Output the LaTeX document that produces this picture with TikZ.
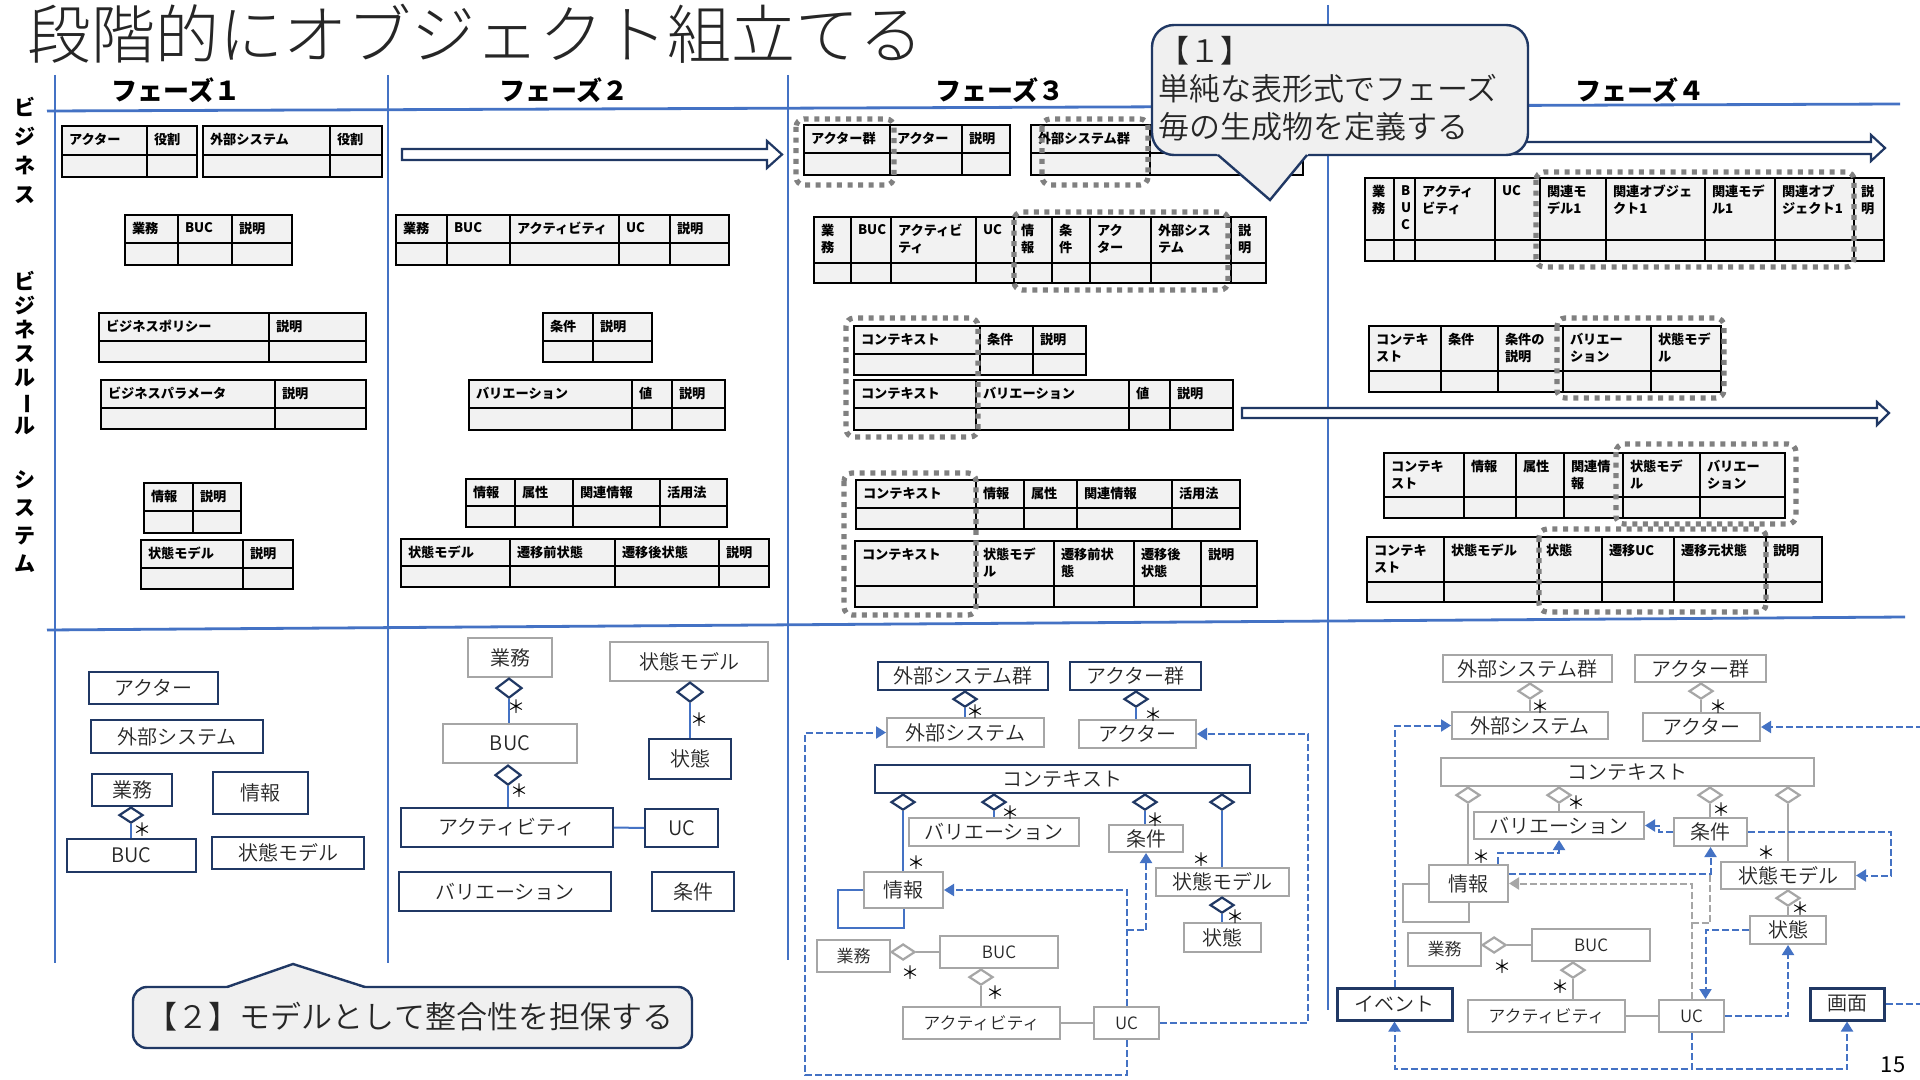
\documentclass[tikz,border=0pt]{standalone}
\usepackage{fontspec}
\setmainfont{Noto Sans CJK JP}
\IfFontExistsTF{Noto Sans CJK JP Light}{\newfontfamily\thinfont{Noto Sans CJK JP Light}}{\newfontfamily\thinfont{Noto Sans CJK JP}}
\IfFontExistsTF{Noto Sans CJK JP DemiLight}{\newfontfamily\demifont{Noto Sans CJK JP DemiLight}}{\newfontfamily\demifont{Noto Sans CJK JP}}
\usetikzlibrary{shapes.geometric,arrows.meta}
\definecolor{divblue}{HTML}{4472C4}
\definecolor{navyb}{HTML}{203864}
\definecolor{boxgray}{HTML}{A6A6A6}
\definecolor{cellgray}{HTML}{F2F2F2}
\definecolor{dotgray}{HTML}{808080}
\definecolor{txtdark}{HTML}{262626}
\definecolor{callfill}{HTML}{F0F0F0}
\tikzset{
  divl/.style={draw=divblue, line width=1.4pt},
  tcell/.style={draw=black, fill=cellgray, line width=1.1pt},
  thead/.style={anchor=north west, inner sep=0pt, outer sep=0pt, xshift=3.5pt, yshift=-3.7pt, align=left, font=\bfseries\fontsize{6.6}{8.5}\selectfont},
  dotb/.style={draw=dotgray, line width=2.6pt, dash pattern=on 2.5pt off 2.8pt, rounded corners=4pt},
  mbase/.style={fill=white, line width=1pt, inner sep=0pt, font=\demifont\fontsize{10}{12}\selectfont, text=txtdark},
  mnavy/.style={mbase, draw=navyb},
  mthick/.style={mbase, draw=navyb, line width=1.5pt},
  mgray/.style={mbase, draw=boxgray},
  msmall/.style={font=\demifont\fontsize{8.5}{10}\selectfont},
  ndia/.style={diamond, draw=navyb, fill=white, line width=1.1pt, inner sep=0pt, minimum width=12pt, minimum height=8pt, anchor=north},
  gdia/.style={ndia, draw=boxgray},
  bline/.style={draw=divblue, line width=1pt},
  gline/.style={draw=boxgray, line width=1pt},
  darr/.style={draw=divblue, line width=1pt, dash pattern=on 3.5pt off 1.5pt, -{Triangle[length=5pt,width=6pt]}},
  garr/.style={draw=boxgray, line width=1pt, dash pattern=on 3.5pt off 1.5pt, -{Triangle[length=5pt,width=6pt]}},
  gdsh/.style={draw=boxgray, line width=1pt, dash pattern=on 3.5pt off 1.5pt},
  ast/.style={inner sep=0pt, font=\fontsize{9}{9}\selectfont, text=black},
  barr/.style={draw=navyb, fill=white, line width=1.1pt, line join=miter},
  callb/.style={draw=navyb, fill=callfill, line width=1.2pt},
  callline/.style={draw=navyb, line width=1.2pt, line join=miter},
  calltext/.style={inner sep=0pt, font=\demifont\fontsize{15.5}{19}\selectfont, text=txtdark, align=left},
  vlab/.style={inner sep=0pt, align=center, font=\bfseries\fontsize{10.5}{14.5}\selectfont},
  phase/.style={inner sep=0pt, font=\bfseries\fontsize{13}{15}\selectfont},
}
\newcommand\jtab[5]{%
  \foreach \xa/\xb/\lab [count=\ci] in {#5}{%
    \draw[tcell] (\xa,#2) rectangle (\xb,#3);
    \draw[tcell] (\xa,#3) rectangle (\xb,#4);
    \node[thead] (#1-\ci) at (\xa,#2) {\lab};
  }}
\newcommand\mbx[7]{\node[#1, minimum width={(#5-#3)*0.5pt}, minimum height={(#6-#4)*0.5pt}] (#2) at ({(#3+#5)/2},{(#4+#6)/2}) {#7};}
\begin{document}
\begin{tikzpicture}[x=0.5pt,y=-0.5pt]
\useasboundingbox (0,0) rectangle (1920,1080);
\fill[white] (0,0) rectangle (1920,1080);
% dividers
\draw[divl] (55,75) -- (55,963);
\draw[divl] (388,75) -- (388,963);
\draw[divl] (788,75) -- (788,960);
\draw[divl] (1328,5) -- (1328,1010);
\draw[divl] (47,111) -- (1900,104);
\draw[divl] (47,630) -- (1905,617);
% title, headers
\node[anchor=west, inner sep=0pt, font=\thinfont\fontsize{32}{34}\selectfont, text=txtdark] (title) at (27,34) {段階的にオブジェクト組立てる};
\node[phase] (ph1) at (176,90) {フェーズ１};
\node[phase] (ph2) at (564,90) {フェーズ２};
\node[phase] (ph3) at (1000,90) {フェーズ３};
\node[phase] (ph4) at (1640,90) {フェーズ４};
\node[vlab] (vl1) at (25,150) {ビ\\ジ\\ネ\\ス};
\node[vlab, font=\bfseries\fontsize{10.5}{12}\selectfont] (vl2) at (25,353) {ビ\\ジ\\ネ\\ス\\ル\\\rotatebox[origin=c]{-90}{ー}\\ル};
\node[vlab, font=\bfseries\fontsize{10.5}{14}\selectfont] (vl3) at (25,522) {シ\\ス\\テ\\ム};
% phase 1 tables
\jtab{t1a}{126}{155}{177}{62/147/アクター, 147/197/役割}
\jtab{t1b}{126}{155}{177}{203/330/外部システム, 330/382/役割}
\jtab{t1c}{215}{243}{265}{125/178/業務, 178/232/BUC, 232/292/説明}
\jtab{t1d}{313}{341}{362}{99/269/ビジネスポリシー, 269/366/説明}
\jtab{t1e}{380}{408}{429}{101/275/ビジネスパラメータ, 275/366/説明}
\jtab{t1f}{483}{511}{533}{144/193/情報, 193/241/説明}
\jtab{t1g}{540}{568}{589}{141/243/状態モデル, 243/293/説明}
% phase 2 tables
\jtab{t2a}{215}{243}{265}{396/447/業務, 447/510/BUC, 510/619/アクティビティ, 619/670/UC, 670/729/説明}
\jtab{t2b}{313}{341}{362}{543/593/条件, 593/652/説明}
\jtab{t2c}{380}{408}{430}{469/632/バリエーション, 632/672/値, 672/725/説明}
\jtab{t2d}{479}{506}{527}{466/515/情報, 515/573/属性, 573/660/関連情報, 660/727/活用法}
\jtab{t2e}{539}{566}{587}{401/510/状態モデル, 510/615/遷移前状態, 615/719/遷移後状態, 719/769/説明}
% phase 3 tables
\jtab{t3a}{125}{153}{175}{804/890/アクター群, 890/962/アクター, 962/1010/説明}
\jtab{t3b}{125}{153}{175}{1031/1150/外部システム群, 1150/1303/{}}
\jtab{t3c}{217}{263}{283}{814/851/{業\\務}, 851/891/BUC, 891/976/{アクティビ\\ティ}, 976/1014/UC, 1014/1052/{情\\報}, 1052/1090/{条\\件}, 1090/1151/{アク\\ター}, 1151/1231/{外部シス\\テム}, 1231/1266/{説\\明}}
\jtab{t3d}{326}{354}{375}{854/980/コンテキスト, 980/1033/条件, 1033/1086/説明}
\jtab{t3e}{380}{408}{430}{854/976/コンテキスト, 976/1129/バリエーション, 1129/1170/値, 1170/1233/説明}
\jtab{t3f}{480}{508}{529}{856/976/コンテキスト, 976/1024/情報, 1024/1077/属性, 1077/1172/関連情報, 1172/1240/活用法}
\jtab{t3g}{541}{586}{607}{855/976/コンテキスト, 976/1054/{状態モデ\\ル}, 1054/1134/{遷移前状\\態}, 1134/1201/{遷移後\\状態}, 1201/1257/説明}
% phase 4 tables
\jtab{t4a}{178}{240}{261}{1365/1394/{業\\務}, 1394/1415/{B\\U\\C}, 1415/1495/{アクティ\\ビティ}, 1495/1540/UC, 1540/1606/{関連モ\\デル1}, 1606/1705/{関連オブジェ\\クト1}, 1705/1775/{関連モデ\\ル1}, 1775/1854/{関連オブ\\ジェクト1}, 1854/1884/{説\\明}}
\jtab{t4b}{326}{371}{392}{1369/1441/{コンテキ\\スト}, 1441/1498/条件, 1498/1563/{条件の\\説明}, 1563/1651/{バリエー\\ション}, 1651/1721/{状態モデ\\ル}}
\jtab{t4c}{453}{497}{518}{1384/1464/{コンテキ\\スト}, 1464/1516/情報, 1516/1564/属性, 1564/1623/{関連情\\報}, 1623/1700/{状態モデ\\ル}, 1700/1785/{バリエー\\ション}}
\jtab{t4d}{537}{582}{602}{1367/1444/{コンテキ\\スト}, 1444/1539/状態モデル, 1539/1602/状態, 1602/1674/遷移UC, 1674/1766/遷移元状態, 1766/1822/説明}
% dotted groups
\draw[dotb] (796,119) rectangle (894,185);
\draw[dotb] (1042,119) rectangle (1148,185);
\draw[dotb] (1014,212) rectangle (1228,290);
\draw[dotb] (846,318) rectangle (978,437);
\draw[dotb] (844,473) rectangle (976,615);
\draw[dotb] (1536,172) rectangle (1854,267);
\draw[dotb] (1557,318) rectangle (1724,398);
\draw[dotb] (1616,444) rectangle (1796,524);
\draw[dotb] (1539,529) rectangle (1766,612);
% block arrows
\draw[barr] (402,149) -- (767,149) -- (767,141) -- (782,154.5) -- (767,168) -- (767,160) -- (402,160) -- cycle;
\draw[barr] (1310,142) -- (1871,142) -- (1871,135) -- (1885,148) -- (1871,161) -- (1871,154) -- (1310,154) -- cycle;
\draw[barr] (1242,408) -- (1877,408) -- (1877,402) -- (1889,413) -- (1877,425) -- (1877,418) -- (1242,418) -- cycle;
% ---------- phase 1 model
\mbx{mnavy}{p1actor}{89}{672}{218}{704}{アクター}
\mbx{mnavy}{p1ext}{91}{720}{263}{753}{外部システム}
\mbx{mnavy}{p1biz}{92}{774}{172}{806}{業務}
\mbx{mnavy}{p1info}{213}{772}{308}{814}{情報}
\mbx{mnavy}{p1buc}{67}{839}{196}{872}{BUC}
\mbx{mnavy}{p1sm}{212}{837}{364}{869}{状態モデル}
\node[ndia] (p1d1) at (131,806) {};
\draw[bline] (p1d1.south) -- (p1d1.south |- p1buc.north);
\node[ast] (p1s1) at (142,830) {＊};
% ---------- phase 2 model
\mbx{mgray}{p2biz}{468}{638}{552}{677}{業務}
\mbx{mgray}{p2sm}{610}{642}{768}{681}{状態モデル}
\mbx{mgray}{p2buc}{443}{724}{577}{763}{BUC}
\mbx{mnavy}{p2st}{649}{739}{731}{779}{状態}
\mbx{mnavy}{p2act}{401}{808}{613}{847}{アクティビティ}
\mbx{mnavy}{p2uc}{645}{809}{718}{847}{UC}
\mbx{mnavy}{p2var}{399}{872}{611}{911}{バリエーション}
\mbx{mnavy}{p2cond}{652}{872}{734}{911}{条件}
\node[ndia, minimum width=13pt, minimum height=10pt] (p2d1) at (509,677) {};
\draw[bline] (p2d1.south) -- (p2d1.south |- p2buc.north);
\node[ndia, minimum width=13pt, minimum height=10pt] (p2d2) at (508,764) {};
\draw[bline] (p2d2.south) -- (p2d2.south |- p2act.north);
\node[ndia, minimum width=13pt, minimum height=10pt] (p2d3) at (690,681) {};
\draw[bline] (p2d3.south) -- (p2d3.south |- p2st.north);
\draw[bline] (p2act.east) -- (p2uc.west);
\node[ast] (p2s1) at (516,707) {＊};
\node[ast] (p2s2) at (519,791) {＊};
\node[ast] (p2s3) at (699,720) {＊};
% ---------- phase 3 model
\mbx{mnavy}{p3extg}{878}{662}{1048}{690}{外部システム群}
\mbx{mnavy}{p3actg}{1070}{662}{1201}{690}{アクター群}
\mbx{mgray}{p3ext}{887}{718}{1044}{747}{外部システム}
\mbx{mgray}{p3actor}{1079}{720}{1196}{748}{アクター}
\mbx{mnavy}{p3ctx}{875}{765}{1250}{793}{コンテキスト}
\mbx{mgray}{p3var}{909}{818}{1079}{846}{バリエーション}
\mbx{mgray}{p3cond}{1109}{825}{1183}{852}{条件}
\mbx{mgray}{p3info}{864}{872}{943}{908}{情報}
\mbx{mgray}{p3sm}{1156}{868}{1289}{896}{状態モデル}
\mbx{mgray}{p3st}{1184}{923}{1261}{952}{状態}
\mbx{mgray,msmall}{p3biz}{817}{940}{890}{972}{業務}
\mbx{mgray,msmall}{p3buc}{940}{936}{1058}{968}{BUC}
\mbx{mgray,msmall}{p3act}{903}{1007}{1060}{1039}{アクティビティ}
\mbx{mgray,msmall}{p3uc}{1094}{1007}{1159}{1039}{UC}
\draw[bline] (p3info.west) -| (838,928) -| (p3info.south);
\node[ndia] (p3d1) at (965,690) {};
\draw[bline] (p3d1.south) -- (p3d1.south |- p3ext.north);
\node[ndia] (p3d2) at (1136,690) {};
\draw[bline] (p3d2.south) -- (p3d2.south |- p3actor.north);
\node[ndia] (p3d3) at (903,793) {};
\draw[bline] (p3d3.south) -- (p3d3.south |- p3info.north);
\node[ndia] (p3d4) at (994,793) {};
\draw[bline] (p3d4.south) -- (p3d4.south |- p3var.north);
\node[ndia] (p3d5) at (1145,793) {};
\draw[bline] (p3d5.south) -- (p3d5.south |- p3cond.north);
\node[ndia] (p3d6) at (1222,793) {};
\draw[bline] (p3d6.south) -- (p3d6.south |- p3sm.north);
\node[ndia] (p3d7) at (1222,896) {};
\draw[bline] (p3d7.south) -- (p3d7.south |- p3st.north);
\node[gdia, anchor=west] (p3d8) at (890,952) {};
\draw[gline] (p3d8.east) -- (p3d8.east -| p3buc.west);
\node[gdia] (p3d9) at (981,968) {};
\draw[gline] (p3d9.south) -- (p3d9.south |- p3act.north);
\draw[gline] (p3act.east) -- (p3uc.west);
\draw[darr] (p3uc.north) |- (p3info.east);
\draw[darr] (p3uc.north |- 0,930) -| (p3cond.south);
\coordinate (p3r) at (1308,734);
\draw[darr] (p3uc.east) -| (p3r) -- (p3actor.east);
\coordinate (p3bl) at (805,1075);
\draw[darr] (p3uc.south) |- (p3bl) |- (p3ext.west);
\node[ast] (p3s1) at (975,712) {＊};
\node[ast] (p3s2) at (1153,715) {＊};
\node[ast] (p3s3) at (916,863) {＊};
\node[ast] (p3s4) at (1010,813) {＊};
\node[ast] (p3s5) at (1155,820) {＊};
\node[ast] (p3s6) at (1201,860) {＊};
\node[ast] (p3s7) at (1235,917) {＊};
\node[ast] (p3s8) at (910,973) {＊};
\node[ast] (p3s9) at (995,993) {＊};
% ---------- phase 4 model
\mbx{mgray}{p4extg}{1443}{655}{1612}{682}{外部システム群}
\mbx{mgray}{p4actg}{1635}{655}{1766}{682}{アクター群}
\mbx{mgray}{p4ext}{1452}{712}{1608}{739}{外部システム}
\mbx{mgray}{p4actor}{1643}{713}{1760}{741}{アクター}
\mbx{mgray}{p4ctx}{1441}{758}{1814}{786}{コンテキスト}
\mbx{mgray}{p4var}{1474}{812}{1644}{839}{バリエーション}
\mbx{mgray}{p4cond}{1674}{818}{1747}{846}{条件}
\mbx{mgray}{p4info}{1429}{865}{1508}{902}{情報}
\mbx{mgray}{p4sm}{1721}{862}{1855}{889}{状態モデル}
\mbx{mgray}{p4st}{1750}{916}{1826}{944}{状態}
\mbx{mgray,msmall}{p4biz}{1408}{933}{1481}{966}{業務}
\mbx{mgray,msmall}{p4buc}{1532}{929}{1650}{961}{BUC}
\mbx{mthick}{p4ev}{1337}{988}{1452}{1020}{イベント}
\mbx{mgray,msmall}{p4act}{1468}{1000}{1625}{1032}{アクティビティ}
\mbx{mgray,msmall}{p4uc}{1659}{1000}{1724}{1032}{UC}
\mbx{mthick}{p4scr}{1810}{988}{1884}{1020}{画面}
\draw[gline] (p4info.west) -| (1403,922) -| (p4info.south);
\node[gdia] (p4d1) at (1530,682) {};
\draw[gline] (p4d1.south) -- (p4d1.south |- p4ext.north);
\node[gdia] (p4d2) at (1701,682) {};
\draw[gline] (p4d2.south) -- (p4d2.south |- p4actor.north);
\node[gdia] (p4d3) at (1468,786) {};
\draw[gline] (p4d3.south) -- (p4d3.south |- p4info.north);
\node[gdia] (p4d4) at (1559,786) {};
\draw[gline] (p4d4.south) -- (p4d4.south |- p4var.north);
\node[gdia] (p4d5) at (1710,786) {};
\draw[gline] (p4d5.south) -- (p4d5.south |- p4cond.north);
\node[gdia] (p4d6) at (1788,786) {};
\draw[gline] (p4d6.south) -- (p4d6.south |- p4sm.north);
\node[gdia] (p4d7) at (1788,889) {};
\draw[gline] (p4d7.south) -- (p4d7.south |- p4st.north);
\node[gdia, anchor=west] (p4d8) at (1481,945) {};
\draw[gline] (p4d8.east) -- (p4d8.east -| p4buc.west);
\node[gdia] (p4d9) at (1573,961) {};
\draw[gline] (p4d9.south) -- (p4d9.south |- p4act.north);
\draw[gline] (p4act.east) -- (p4uc.west);
\draw[darr] (p4cond.west) -- ++(-14,0) |- (p4var.east);
\draw[darr] (p4cond.east) -- ++(143,0) |- (p4sm.east);
\draw[darr] ([xshift=-5.5pt]p4info.north east) |- ([yshift=-6.5pt]p4var.south) -- (p4var.south);
\draw[garr] (p4uc.north) |- (p4info.east);
\draw[gdsh] (p4uc.north |- 0,923) -| (1710,873);
\draw[darr] ([yshift=5pt]p4info.east) -| (p4cond.south);
\draw[darr] (p4st.west) -| ([xshift=7pt]p4uc.north);
\draw[darr] (p4uc.east) -| (p4st.south);
\draw[darr] (p4uc.south) -- ++(0,36) -| (p4ev.south);
\draw[darr] (p4uc.south) -- ++(0,36) -| (p4scr.south);
\draw[darr] (p4ev.north) |- (p4ext.west);
\draw[darr] (p4scr.east) -- ++(35,0) |- (p4actor.east);
\node[ast] (p4s1) at (1540,707) {＊};
\node[ast] (p4s2) at (1718,707) {＊};
\node[ast] (p4s3) at (1481,857) {＊};
\node[ast] (p4s4) at (1576,803) {＊};
\node[ast] (p4s5) at (1721,810) {＊};
\node[ast] (p4s6) at (1766,853) {＊};
\node[ast] (p4s7) at (1800,909) {＊};
\node[ast] (p4s8) at (1502,967) {＊};
\node[ast] (p4s9) at (1560,987) {＊};
% ---------- callouts
\draw[callb, rounded corners=11pt] (1152,25) rectangle (1528,155);
\fill[callfill] (1216,153) -- (1270,200) -- (1309,153) -- cycle;
\draw[callline] (1218,155) -- (1270,200) -- (1307,155);
\node[calltext, anchor=north west] (c1t) at (1158,36) {【１】\\単純な表形式でフェーズ\\毎の生成物を定義する};
\draw[callb, rounded corners=7pt] (133,987) rectangle (692,1048);
\fill[callfill] (225,989) -- (293,964) -- (367,989) -- cycle;
\draw[callline] (227,987) -- (293,964) -- (365,987);
\node[calltext] (c2t) at (410,1017) {【２】モデルとして整合性を担保する};
\node[inner sep=0pt, font=\fontsize{11}{12}\selectfont] (pg) at (1893,1065) {15};
\end{tikzpicture}
\end{document}
